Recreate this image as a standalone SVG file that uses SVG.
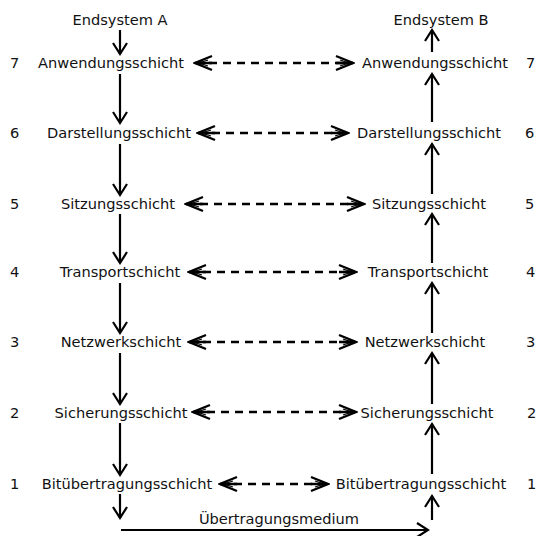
<svg xmlns="http://www.w3.org/2000/svg" width="536" height="536" viewBox="0 0 536 536">
  <style>
    text { font-family: "DejaVu Sans", "Liberation Sans", sans-serif; font-size: 14.6px; fill: #111; }
    .c { text-anchor: middle; }
    .solid { stroke: #000; stroke-width: 2.2; fill: none; }
    .dash { stroke: #000; stroke-width: 2.6; fill: none; stroke-dasharray: 8 6; }
  </style>
  <defs>
    <!-- open chevron head for the vertical data-flow arrows -->
    <marker id="open" viewBox="-14 -9 16 18" markerWidth="16" markerHeight="18" refX="0" refY="0" orient="auto" markerUnits="userSpaceOnUse">
      <path d="M-11,-7 L0,0 L-11,7" fill="none" stroke="#000" stroke-width="2.2"/>
    </marker>
    <!-- long chevron with a centre spine for the peer-to-peer dashed links -->
    <marker id="peer" viewBox="-20 -10 22 20" markerWidth="22" markerHeight="20" refX="0" refY="0" orient="auto-start-reverse" markerUnits="userSpaceOnUse">
      <path d="M-17,-7 L0,0 L-17,7 M-17,0 L0,0" fill="none" stroke="#000" stroke-width="2.3" stroke-linejoin="miter"/>
      <path d="M-13,-3 L-4,0 L-13,3" fill="none" stroke="#000" stroke-width="1.2"/>
    </marker>
  </defs>

  <g id="endsystem-a"><text class="c" x="120" y="25">Endsystem A</text></g>
  <g id="endsystem-b"><text class="c" x="441" y="25">Endsystem B</text></g>

  <g id="a7"><text x="10" y="68">7</text><text class="c" x="111" y="68">Anwendungsschicht</text></g>
  <g id="a6"><text x="10" y="138">6</text><text class="c" x="119" y="138">Darstellungsschicht</text></g>
  <g id="a5"><text x="10" y="209">5</text><text class="c" x="118" y="209">Sitzungsschicht</text></g>
  <g id="a4"><text x="10" y="277">4</text><text class="c" x="120" y="277">Transportschicht</text></g>
  <g id="a3"><text x="10" y="347">3</text><text class="c" x="121" y="347">Netzwerkschicht</text></g>
  <g id="a2"><text x="10" y="418">2</text><text class="c" x="121" y="418">Sicherungsschicht</text></g>
  <g id="a1"><text x="10" y="489">1</text><text class="c" x="127" y="489">Bitübertragungsschicht</text></g>

  <g id="b7"><text class="c" x="435" y="68">Anwendungsschicht</text><text x="526" y="68">7</text></g>
  <g id="b6"><text class="c" x="429" y="138">Darstellungsschicht</text><text x="525" y="138">6</text></g>
  <g id="b5"><text class="c" x="429" y="209">Sitzungsschicht</text><text x="525" y="209">5</text></g>
  <g id="b4"><text class="c" x="428" y="277">Transportschicht</text><text x="526" y="277">4</text></g>
  <g id="b3"><text class="c" x="425" y="347">Netzwerkschicht</text><text x="526" y="347">3</text></g>
  <g id="b2"><text class="c" x="427" y="418">Sicherungsschicht</text><text x="527" y="418">2</text></g>
  <g id="b1"><text class="c" x="421" y="489">Bitübertragungsschicht</text><text x="527" y="489">1</text></g>

  <g id="medium"><text class="c" x="279" y="524">Übertragungsmedium</text></g>

  <g id="connectors">
    <!-- downward path through system A -->
    <line class="solid" x1="120" y1="30" x2="120" y2="54" marker-end="url(#open)"/>
    <line class="solid" x1="120" y1="74" x2="120" y2="123" marker-end="url(#open)"/>
    <line class="solid" x1="120" y1="144" x2="120" y2="195" marker-end="url(#open)"/>
    <line class="solid" x1="120" y1="214" x2="120" y2="263" marker-end="url(#open)"/>
    <line class="solid" x1="120" y1="283" x2="120" y2="333" marker-end="url(#open)"/>
    <line class="solid" x1="120" y1="353" x2="120" y2="404" marker-end="url(#open)"/>
    <line class="solid" x1="120" y1="423" x2="120" y2="475" marker-end="url(#open)"/>
    <line class="solid" x1="120" y1="494" x2="120" y2="518" marker-end="url(#open)"/>
    <!-- transmission medium -->
    <line class="solid" x1="121" y1="530" x2="428" y2="530" marker-end="url(#open)"/>
    <!-- upward path through system B -->
    <line class="solid" x1="432" y1="520" x2="432" y2="496" marker-end="url(#open)"/>
    <line class="solid" x1="432" y1="474" x2="432" y2="424" marker-end="url(#open)"/>
    <line class="solid" x1="432" y1="404" x2="432" y2="353" marker-end="url(#open)"/>
    <line class="solid" x1="432" y1="333" x2="432" y2="283" marker-end="url(#open)"/>
    <line class="solid" x1="432" y1="263" x2="432" y2="214" marker-end="url(#open)"/>
    <line class="solid" x1="432" y1="194" x2="432" y2="144" marker-end="url(#open)"/>
    <line class="solid" x1="432" y1="122" x2="432" y2="74" marker-end="url(#open)"/>
    <line class="solid" x1="432" y1="52" x2="432" y2="30" marker-end="url(#open)"/>
    <!-- peer protocol links -->
    <line class="dash" x1="195" y1="63" x2="353" y2="63" marker-start="url(#peer)" marker-end="url(#peer)"/>
    <line class="dash" x1="198" y1="133" x2="348" y2="133" marker-start="url(#peer)" marker-end="url(#peer)"/>
    <line class="dash" x1="186" y1="204" x2="364" y2="204" marker-start="url(#peer)" marker-end="url(#peer)"/>
    <line class="dash" x1="189" y1="272" x2="356" y2="272" marker-start="url(#peer)" marker-end="url(#peer)"/>
    <line class="dash" x1="189" y1="342" x2="356" y2="342" marker-start="url(#peer)" marker-end="url(#peer)"/>
    <line class="dash" x1="193" y1="412" x2="356" y2="412" marker-start="url(#peer)" marker-end="url(#peer)"/>
    <line class="dash" x1="220" y1="484" x2="328" y2="484" marker-start="url(#peer)" marker-end="url(#peer)"/>
  </g>
</svg>
